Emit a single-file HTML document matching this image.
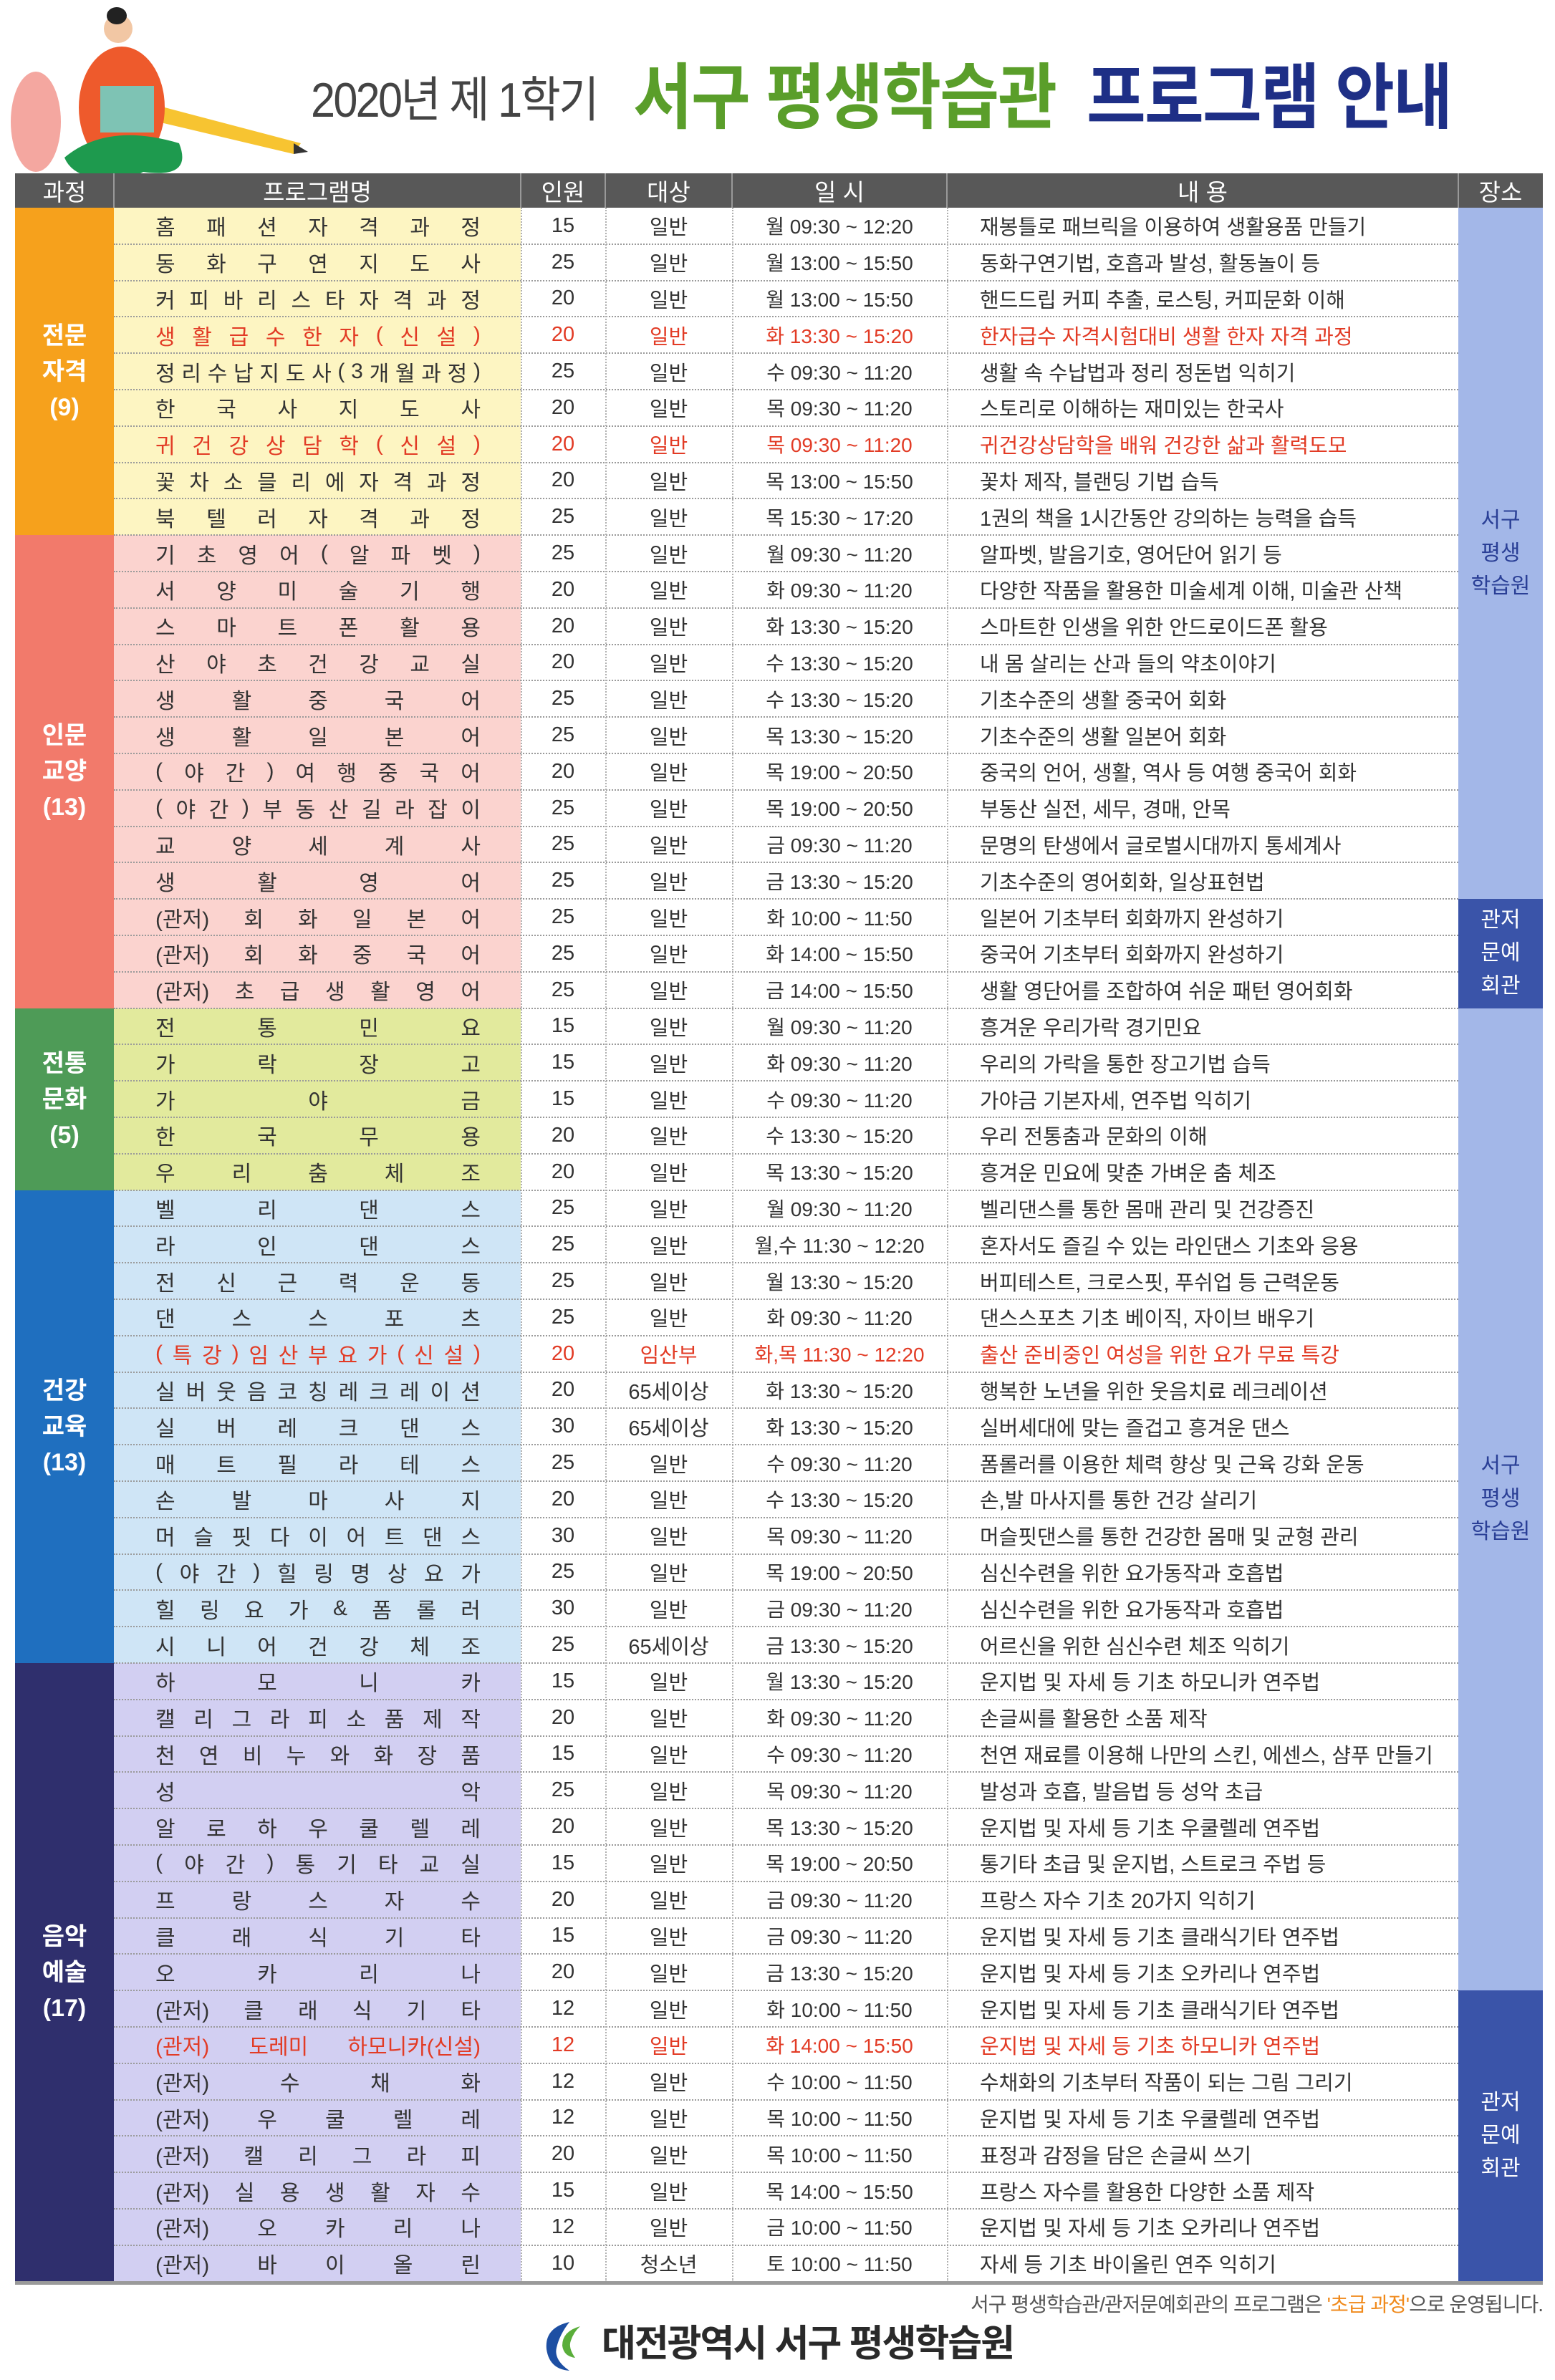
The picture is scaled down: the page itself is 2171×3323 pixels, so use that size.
<!DOCTYPE html>
<html><head><meta charset="utf-8">
<style>
body{margin:0;width:2171px;height:3323px;background:#fff;position:relative;overflow:hidden;font-family:"Liberation Sans","Noto Sans CJK KR",sans-serif;color:#333}
.abs{position:absolute}
.cell{position:absolute;display:flex;align-items:center;box-sizing:border-box;font-size:29px}
.nm{justify-content:space-between;padding:0 56px 0 58px}
.ctr{justify-content:center}
.hline{position:absolute;height:0;border-top:2px dotted #9a9a9a}
.vline{position:absolute;width:0;border-left:2px dotted #b0b0b0}
.lab{position:absolute;display:flex;align-items:center;justify-content:center;text-align:center;color:#fff;font-weight:bold;font-size:34px;line-height:50px}
</style></head><body>
<svg class="abs" style="left:0;top:0" width="440" height="280" viewBox="0 0 440 280">
<ellipse cx="50" cy="170" rx="35" ry="70" fill="#f4a7a0"/>
<path d="M230 150 L420 200 L410 215 L220 170 Z" fill="#f7c431"/>
<path d="M410 200 L430 212 L410 215Z" fill="#333"/>
<ellipse cx="170" cy="150" rx="60" ry="85" fill="#ee5a2c"/>
<circle cx="165" cy="40" r="20" fill="#f2c7a4"/>
<ellipse cx="163" cy="22" rx="14" ry="12" fill="#222"/>
<rect x="140" y="120" width="75" height="65" fill="#7ec3b4"/>
<path d="M90 220 Q150 170 250 200 Q270 250 200 240 L160 260 L140 250 Q100 245 90 220Z" fill="#1e9a4e"/>
</svg>
<div class="abs" style="left:434px;top:100px;font-size:68px;color:#444;letter-spacing:-3px;line-height:80px;transform:scaleX(0.9);transform-origin:0 0;white-space:nowrap">2020년 제 1학기</div>
<div class="abs" style="left:884px;top:80px;font-size:100px;font-weight:bold;color:#5a9e2a;line-height:115px;letter-spacing:-2px;transform:scaleX(0.9);transform-origin:0 0;white-space:nowrap">서구 평생학습관</div>
<div class="abs" style="left:1517px;top:80px;font-size:100px;font-weight:bold;color:#1e2f86;line-height:115px;letter-spacing:-2px;transform:scaleX(0.9);transform-origin:0 0;white-space:nowrap">프로그램 안내</div>
<div id="tbl"></div>
<div class="abs" style="right:17px;top:3196px;font-size:28px;color:#555;letter-spacing:-1px">서구 평생학습관/관저문예회관의 프로그램은 <span style="color:#f08a1c">'초급 과정'</span>으로 운영됩니다.</div>
<svg class="abs" style="left:755px;top:3240px" width="70" height="72" viewBox="0 0 70 72">
<path d="M40 2 Q5 10 8 40 Q12 68 40 70 Q18 55 22 38 Q26 20 40 2Z" fill="#1d4fa3"/>
<path d="M55 8 Q30 15 30 35 Q32 50 48 52 Q38 38 42 28 Q46 16 55 8Z" fill="#5aae3a"/>
</svg>
<div class="abs" style="left:840px;top:3238px;font-size:52px;font-weight:bold;color:#2a2a2a;line-height:70px;letter-spacing:-2px">대전광역시 서구 평생학습원</div>
<script>
const names=["홈패션자격과정","동화구연지도사","커피바리스타자격과정","생활급수한자(신설)","정리수납지도사(3개월과정)","한국사지도사","귀건강상담학(신설)","꽃차소믈리에자격과정","북텔러자격과정",
"기초영어(알파벳)","서양미술기행","스마트폰활용","산야초건강교실","생활중국어","생활일본어","(야간)여행중국어","(야간)부동산길라잡이","교양세계사","생활영어","(관저)회화일본어","(관저)회화중국어","(관저)초급생활영어",
"전통민요","가락장고","가야금","한국무용","우리춤체조",
"벨리댄스","라인댄스","전신근력운동","댄스스포츠","(특강)임산부요가(신설)","실버웃음코칭레크레이션","실버레크댄스","매트필라테스","손발마사지","머슬핏다이어트댄스","(야간)힐링명상요가","힐링요가&폼롤러","시니어건강체조",
"하모니카","캘리그라피소품제작","천연비누와화장품","성악","알로하우쿨렐레","(야간)통기타교실","프랑스자수","클래식기타","오카리나","(관저)클래식기타","(관저)|도레미|하모니카(신설)","(관저)수채화","(관저)우쿨렐레","(관저)캘리그라피","(관저)실용생활자수","(관저)오카리나","(관저)바이올린"];
const caps=[15,25,20,20,25,20,20,20,25, 25,20,20,20,25,25,20,25,25,25,25,25,25, 15,15,15,20,20, 25,25,25,25,20,20,30,25,20,30,25,30,25, 15,20,15,25,20,15,20,15,20,12,12,12,12,20,15,12,10];
const targets=["일반","일반","일반","일반","일반","일반","일반","일반","일반","일반","일반","일반","일반","일반","일반","일반","일반","일반","일반","일반","일반","일반","일반","일반","일반","일반","일반","일반","일반","일반","일반","임산부","65세이상","65세이상","일반","일반","일반","일반","일반","65세이상","일반","일반","일반","일반","일반","일반","일반","일반","일반","일반","일반","일반","일반","일반","일반","일반","청소년"];
const times=["월 09:30 ~ 12:20","월 13:00 ~ 15:50","월 13:00 ~ 15:50","화 13:30 ~ 15:20","수 09:30 ~ 11:20","목 09:30 ~ 11:20","목 09:30 ~ 11:20","목 13:00 ~ 15:50","목 15:30 ~ 17:20",
"월 09:30 ~ 11:20","화 09:30 ~ 11:20","화 13:30 ~ 15:20","수 13:30 ~ 15:20","수 13:30 ~ 15:20","목 13:30 ~ 15:20","목 19:00 ~ 20:50","목 19:00 ~ 20:50","금 09:30 ~ 11:20","금 13:30 ~ 15:20","화 10:00 ~ 11:50","화 14:00 ~ 15:50","금 14:00 ~ 15:50",
"월 09:30 ~ 11:20","화 09:30 ~ 11:20","수 09:30 ~ 11:20","수 13:30 ~ 15:20","목 13:30 ~ 15:20",
"월 09:30 ~ 11:20","월,수 11:30 ~ 12:20","월 13:30 ~ 15:20","화 09:30 ~ 11:20","화,목 11:30 ~ 12:20","화 13:30 ~ 15:20","화 13:30 ~ 15:20","수 09:30 ~ 11:20","수 13:30 ~ 15:20","목 09:30 ~ 11:20","목 19:00 ~ 20:50","금 09:30 ~ 11:20","금 13:30 ~ 15:20",
"월 13:30 ~ 15:20","화 09:30 ~ 11:20","수 09:30 ~ 11:20","목 09:30 ~ 11:20","목 13:30 ~ 15:20","목 19:00 ~ 20:50","금 09:30 ~ 11:20","금 09:30 ~ 11:20","금 13:30 ~ 15:20","화 10:00 ~ 11:50","화 14:00 ~ 15:50","수 10:00 ~ 11:50","목 10:00 ~ 11:50","목 10:00 ~ 11:50","목 14:00 ~ 15:50","금 10:00 ~ 11:50","토 10:00 ~ 11:50"];
const contents=["재봉틀로 패브릭을 이용하여 생활용품 만들기","동화구연기법, 호흡과 발성, 활동놀이 등","핸드드립 커피 추출, 로스팅, 커피문화 이해","한자급수 자격시험대비 생활 한자 자격 과정","생활 속 수납법과 정리 정돈법 익히기","스토리로 이해하는 재미있는 한국사","귀건강상담학을 배워 건강한 삶과 활력도모","꽃차 제작, 블랜딩 기법 습득","1권의 책을 1시간동안 강의하는 능력을 습득",
"알파벳, 발음기호, 영어단어 읽기 등","다양한 작품을 활용한 미술세계 이해, 미술관 산책","스마트한 인생을 위한 안드로이드폰 활용","내 몸 살리는 산과 들의 약초이야기","기초수준의 생활 중국어 회화","기초수준의 생활 일본어 회화","중국의 언어, 생활, 역사 등 여행 중국어 회화","부동산 실전, 세무, 경매, 안목","문명의 탄생에서 글로벌시대까지 통세계사","기초수준의 영어회화, 일상표현법","일본어 기초부터 회화까지 완성하기","중국어 기초부터 회화까지 완성하기","생활 영단어를 조합하여 쉬운 패턴 영어회화",
"흥겨운 우리가락 경기민요","우리의 가락을 통한 장고기법 습득","가야금 기본자세, 연주법 익히기","우리 전통춤과 문화의 이해","흥겨운 민요에 맞춘 가벼운 춤 체조",
"벨리댄스를 통한 몸매 관리 및 건강증진","혼자서도 즐길 수 있는 라인댄스 기초와 응용","버피테스트, 크로스핏, 푸쉬업 등 근력운동","댄스스포츠 기초 베이직, 자이브 배우기","출산 준비중인 여성을 위한 요가 무료 특강","행복한 노년을 위한 웃음치료 레크레이션","실버세대에 맞는 즐겁고 흥겨운 댄스","폼롤러를 이용한 체력 향상 및 근육 강화 운동","손,발 마사지를 통한 건강 살리기","머슬핏댄스를 통한 건강한 몸매 및 균형 관리","심신수련을 위한 요가동작과 호흡법","심신수련을 위한 요가동작과 호흡법","어르신을 위한 심신수련 체조 익히기",
"운지법 및 자세 등 기초 하모니카 연주법","손글씨를 활용한 소품 제작","천연 재료를 이용해 나만의 스킨, 에센스, 샴푸 만들기","발성과 호흡, 발음법 등 성악 초급","운지법 및 자세 등 기초 우쿨렐레 연주법","통기타 초급 및 운지법, 스트로크 주법 등","프랑스 자수 기초 20가지 익히기","운지법 및 자세 등 기초 클래식기타 연주법","운지법 및 자세 등 기초 오카리나 연주법","운지법 및 자세 등 기초 클래식기타 연주법","운지법 및 자세 등 기초 하모니카 연주법","수채화의 기초부터 작품이 되는 그림 그리기","운지법 및 자세 등 기초 우쿨렐레 연주법","표정과 감정을 담은 손글씨 쓰기","프랑스 자수를 활용한 다양한 소품 제작","운지법 및 자세 등 기초 오카리나 연주법","자세 등 기초 바이올린 연주 익히기"];
const redRows=[3,6,31,50];
const groupLabels=["전문<br>자격<br>(9)","인문<br>교양<br>(13)","전통<br>문화<br>(5)","건강<br>교육<br>(13)","음악<br>예술<br>(17)"];
const groupCounts=[9,13,5,13,17];
const groupColors=["#f6a11c","#f27a6b","#4e9b57","#1f6fbf","#2f2f6d"];
const nameColors=["#fdf5c2","#fbd3cf","#e2ea9d","#cfe5f6","#d2cff2"];
const placeLabels=["서구<br>평생<br>학습원","관저<br>문예<br>회관","서구<br>평생<br>학습원","관저<br>문예<br>회관"];
const placeCounts=[19,3,27,8];
const cols=[21,159,727,845,1022,1322,2036,2154];
const top0=290,rowH=50.8;
const T=document.getElementById('tbl');
function mk(cls,css){const d=document.createElement('div');d.className=cls;d.style.cssText=css;T.appendChild(d);return d;}
const hb=mk('abs','left:21px;top:242px;width:2133px;height:48px;background:#585858');


const heads=["과정","프로그램명","인원","대상","일 시","내 용","장소"];
heads.forEach((h,i)=>{const c=mk('cell ctr',`left:${cols[i]}px;top:242px;width:${cols[i+1]-cols[i]}px;height:48px;color:#fff;font-size:33px`);c.textContent=h;


if(i<6){mk('abs',`left:${cols[i+1]-1}px;top:242px;width:2px;height:48px;background:#999`);}});
let r=0;
groupCounts.forEach((n,g)=>{
 const y=top0+r*rowH,h=n*rowH;
 const b=mk('lab',`left:21px;top:${y}px;width:138px;height:${h}px;background:${groupColors[g]}`);b.innerHTML=groupLabels[g];
 
 
 const nb=mk('abs',`left:159px;top:${y}px;width:568px;height:${h}px;background:${nameColors[g]}`);
 
 
 r+=n;});
r=0;
placeCounts.forEach((n,i)=>{
 const dark=i%2==1;
 const b=mk('lab',`left:2036px;top:${top0+r*rowH}px;width:118px;height:${n*rowH}px;font-weight:normal;font-size:30px;line-height:46px;background:${dark?'#3a54a9':'#a3b7e8'};color:${dark?'#fff':'#2a3f96'}`);b.innerHTML=placeLabels[i];
 
 
 r+=n;});
names.forEach((nm,i)=>{
 const y=top0+i*rowH;const red=redRows.includes(i);const col=red?'#e23b25':'#333';
 const toks=nm.includes('|')?nm.split('|'):(nm.startsWith('(관저)')?['(관저)',...[...nm.slice(4)]]:[...nm.replace(/ /g,'')]);
 const nc=mk('cell nm',`left:159px;top:${y}px;width:568px;height:${rowH}px;color:${col};font-size:30px`);
 
 
 toks.forEach(t=>{const s=document.createElement('span');s.textContent=t;nc.appendChild(s);});
 const vals=[caps[i],targets[i],times[i],contents[i]];
 vals.forEach((v,k)=>{const ci=k+2;
  const c=mk('cell '+(k==3?'':'ctr'),`left:${cols[ci]}px;top:${y}px;width:${cols[ci+1]-cols[ci]}px;height:${rowH}px;color:${col};${k==3?'padding-left:46px;':''}${k==2?'font-size:28px;':''}`);
  c.textContent=v;
  
  });
 if(i>0){mk('hline',`left:159px;top:${y-1}px;width:1877px`);}
});
[727,845,1022,1322].forEach(x=>mk('vline',`left:${x}px;top:290px;height:2896px`));
mk('abs','left:21px;top:3185px;width:2133px;height:5px;background:#9a9a9a');
</script>
</body></html>
